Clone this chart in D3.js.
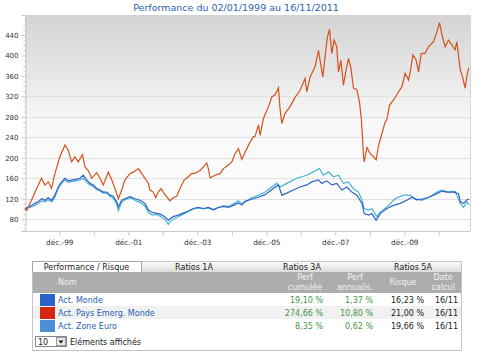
<!DOCTYPE html>
<html><head><meta charset="utf-8">
<script src="https://cdn.jsdelivr.net/npm/d3@7"></script>
<style>
html,body{margin:0;padding:0;background:#fff;}
svg{display:block;font-family:"DejaVu Sans",Verdana,sans-serif;}
</style></head>
<body>
<svg id="c" width="478" height="357"></svg>
<script>
// ---- DATA (decimal years, base 100) ----
const seriesNames = ["Act. Monde", "Act. Pays Emerg. Monde", "Act. Zone Euro"];
const seriesColors = ["#2f62c8", "#d4521c", "#46b4d2"];
const legendColors = ["#2c63c9", "#d52710", "#4a90d6"];

const emergT = [1999.00,1999.05,1999.19,1999.34,1999.48,1999.58,1999.68,1999.77,1999.87,2000.015,2000.16,2000.255,2000.355,2000.45,2000.545,2000.67,2000.74,2000.836,2000.935,2001.08,2001.176,2001.27,2001.417,2001.515,2001.61,2001.707,2001.805,2001.90,2002.046,2002.14,2002.287,2002.386,2002.48,2002.577,2002.626,2002.72,2002.79,2002.867,2002.945,2003.04,2003.157,2003.206,2003.30,2003.40,2003.497,2003.62,2003.737,2003.836,2003.93,2004.077,2004.17,2004.27,2004.318,2004.367,2004.51,2004.657,2004.753,2004.90,2004.997,2005.09,2005.19,2005.287,2005.38,2005.527,2005.62,2005.67,2005.77,2005.817,2005.913,2006.06,2006.157,2006.25,2006.35,2006.398,2006.447,2006.54,2006.688,2006.83,2006.978,2007.12,2007.17,2007.268,2007.41,2007.51,2007.636,2007.70,2007.77,2007.83,2007.897,2007.964,2008.04,2008.09,2008.16,2008.234,2008.31,2008.38,2008.45,2008.525,2008.62,2008.698,2008.75,2008.785,2008.814,2008.835,2008.913,2009.009,2009.105,2009.18,2009.25,2009.348,2009.44,2009.49,2009.57,2009.685,2009.83,2009.93,2010.02,2010.12,2010.169,2010.247,2010.34,2010.41,2010.49,2010.60,2010.70,2010.845,2010.943,2011.02,2011.09,2011.18,2011.28,2011.38,2011.47,2011.52,2011.62,2011.687,2011.76,2011.81,2011.86,2011.874];
const emergV = [100,97,117,140,160,147,153,140,169,202,225,215,192,202,192,206,182,175,160,171,160,147,172,157,140,120,137,157,169,172,179,169,160,150,137,133,122,133,140,130,120,116,122,125,140,157,163,169,170,175,182,190,179,161,166,169,179,186,192,208,218,197,211,231,241,242,264,244,277,300,319,323,337,294,267,287,300,318,332,355,329,358,378,410,358,397,436,451,404,430,417,368,391,342,372,394,375,336,333,309,277,241,202,192,220,208,202,196,224,247,270,274,303,313,329,339,365,352,368,401,391,368,404,404,417,427,446,464,440,417,430,420,411,427,372,358,336,358,375,374.66];

const mondeT = [1999.00,1999.145,1999.29,1999.386,1999.485,1999.58,1999.676,1999.775,1999.87,1999.966,2000.065,2000.16,2000.256,2000.40,2000.595,2000.69,2000.79,2000.886,2000.98,2001.08,2001.176,2001.27,2001.37,2001.466,2001.56,2001.66,2001.707,2001.805,2001.90,2002.046,2002.19,2002.336,2002.48,2002.577,2002.675,2002.79,2002.916,2003.06,2003.157,2003.206,2003.30,2003.447,2003.59,2003.737,2003.88,2004.03,2004.17,2004.318,2004.46,2004.608,2004.753,2004.90,2005.043,2005.19,2005.287,2005.38,2005.527,2005.77,2005.96,2006.20,2006.35,2006.447,2006.59,2006.78,2006.978,2007.17,2007.317,2007.51,2007.607,2007.75,2007.897,2008.04,2008.19,2008.333,2008.478,2008.62,2008.768,2008.835,2008.96,2009.058,2009.18,2009.299,2009.49,2009.685,2009.879,2010.07,2010.218,2010.36,2010.555,2010.749,2010.943,2011.09,2011.23,2011.425,2011.57,2011.62,2011.716,2011.815,2011.874];
const mondeV = [101,105,111,114,120,117,122,117,127,143,153,160,155,157,160,166,157,150,147,140,137,133,133,127,125,114,104,117,120,124,120,117,111,98,94,92,90,85,78,81,85,88,92,96,101,103,101,103,99,103,105,103,107,112,108,115,118,123,128,140,147,127,131,137,143,147,153,157,150,155,147,150,137,143,133,127,111,91,88,91,78,91,101,107,111,117,123,118,120,124,130,135,133,133,130,114,111,118,119.10];

const euroT = [1999.00,1999.145,1999.29,1999.386,1999.485,1999.58,1999.676,1999.775,1999.87,1999.966,2000.065,2000.16,2000.256,2000.40,2000.595,2000.69,2000.79,2000.886,2000.98,2001.08,2001.176,2001.27,2001.37,2001.466,2001.56,2001.66,2001.707,2001.805,2001.90,2002.046,2002.19,2002.336,2002.48,2002.577,2002.675,2002.72,2002.79,2002.916,2003.06,2003.157,2003.206,2003.30,2003.447,2003.59,2003.737,2003.88,2004.03,2004.17,2004.318,2004.46,2004.608,2004.753,2004.90,2005.043,2005.19,2005.287,2005.527,2005.77,2005.96,2006.30,2006.398,2006.59,2006.88,2007.17,2007.36,2007.54,2007.65,2007.80,2007.94,2008.09,2008.23,2008.38,2008.52,2008.67,2008.77,2008.835,2008.96,2009.058,2009.20,2009.299,2009.54,2009.73,2009.97,2010.17,2010.31,2010.50,2010.749,2010.943,2011.09,2011.27,2011.47,2011.62,2011.716,2011.815,2011.874];
const euroV = [100,103,107,111,116,114,118,114,123,140,150,157,152,154,157,160,152,147,144,138,135,131,131,125,121,110,97,113,118,122,117,113,106,93,89,88,90,86,80,70,75,80,85,90,95,100,102,100,102,98,103,106,105,110,116,110,120,127,133,150,143,150,160,166,172.5,179,166,172.5,163,166,150,153,140,133,117,101,98,101,85,94,107,120,127,127,120,117,124,133,137,133,135,111,103,114,108.35];

const yTicks = [80,120,160,200,240,280,320,360,400,440];
const xTickYears = [1999,2000,2001,2002,2003,2004,2005,2006,2007,2008,2009,2010];
const xLabelYears = [1999,2001,2003,2005,2007,2009];
const title = "Performance du 02/01/1999 au 16/11/2011";

const tabs = ["Performance / Risque", "Ratios 1A", "Ratios 3A", "Ratios 5A"];
const perfCum = ["19,10 %", "274,66 %", "8,35 %"];
const perfAnn = ["1,37 %", "10,80 %", "0,62 %"];
const risque = ["16,23 %", "21,00 %", "19,66 %"];
const dateCalc = ["16/11", "16/11", "16/11"];

// ---- helpers ----
function dy(t){const y=Math.floor(t);const s=new Date(y,0,1),e=new Date(y+1,0,1);return new Date(+s+(t-y)*(e-s));}
const svg = d3.select("#c");
const defs = svg.append("defs");

const L=25, R=470, T=15, B=231;
const x = d3.scaleTime().domain([new Date(1999,0,2), new Date(2011,10,16)]).range([L, 469]);
const y = d3.scaleLinear().domain([57, 479]).range([B, T]);

// background gradient
const g1 = defs.append("linearGradient").attr("id","bg").attr("x1",0).attr("y1",0).attr("x2",0).attr("y2",1);
g1.append("stop").attr("offset","0%").attr("stop-color","#d3d3d3");
g1.append("stop").attr("offset","50%").attr("stop-color","#f8f8f8");
g1.append("stop").attr("offset","100%").attr("stop-color","#ffffff");
svg.append("rect").attr("x",L).attr("y",T).attr("width",R-L).attr("height",B-T).attr("fill","url(#bg)");

// title
svg.append("text").attr("x",236).attr("y",11).attr("text-anchor","middle")
  .attr("font-size",9.5).attr("fill","#2a66b4").text(title);

// grid
svg.append("g").selectAll("line").data(yTicks).join("line")
  .attr("x1",L).attr("x2",R).attr("y1",d=>Math.round(y(d))+0.5).attr("y2",d=>Math.round(y(d))+0.5)
  .attr("stroke","#e1e1e1").attr("stroke-width",1);

// right border
svg.append("line").attr("x1",R+0.5).attr("x2",R+0.5).attr("y1",T).attr("y2",B).attr("stroke","#d8d8d8");

// y axis
const yAxis = d3.axisLeft(y).tickValues(yTicks).tickSize(4).tickPadding(3);
const ya = svg.append("g").attr("transform",`translate(${L+0.5},0)`).call(yAxis);
ya.select(".domain").attr("stroke","#c8c8c8");
ya.selectAll(".tick line").attr("stroke","#c8c8c8");
ya.selectAll("text").attr("font-size",7).attr("fill","#333").attr("font-family","DejaVu Sans");
const minor = d3.range(60, 480, 10).filter(v=>v%40!==0);
const ym = d3.axisLeft(y).tickValues(minor).tickSize(2).tickFormat("");
const yma = svg.append("g").attr("transform",`translate(${L+0.5},0)`).call(ym);
yma.select(".domain").remove();
yma.selectAll(".tick line").attr("stroke","#c8c8c8");

// x axis
const fmt = d => "déc.-" + String(d.getFullYear()).slice(2);
const xAxis = d3.axisBottom(x).tickValues(xTickYears.map(yr=>new Date(yr,11,31)))
  .tickSize(4).tickPadding(4).tickFormat(d => xLabelYears.includes(d.getFullYear()) ? fmt(d) : "");
const xa = svg.append("g").attr("transform",`translate(0,${B+0.5})`).call(xAxis);
xa.select(".domain").attr("stroke","#c8c8c8").attr("d",`M${L},0H${R}`);
xa.selectAll(".tick line").attr("stroke","#c8c8c8");
xa.selectAll("text").attr("font-size",7.3).attr("fill","#333").attr("font-family","DejaVu Sans");

// lines
const line = d3.line().x(d=>x(dy(d[0]))).y(d=>y(d[1]));
const mk = (T_,V_) => T_.map((t,i)=>[t,V_[i]]);
const plot = svg.append("g");
plot.append("path").datum(mk(euroT,euroV)).attr("d",line).attr("fill","none")
  .attr("stroke",seriesColors[2]).attr("stroke-width",1.2);
plot.append("path").datum(mk(mondeT,mondeV)).attr("d",line).attr("fill","none")
  .attr("stroke",seriesColors[0]).attr("stroke-width",1.2);
plot.append("path").datum(mk(emergT,emergV)).attr("d",line).attr("fill","none")
  .attr("stroke",seriesColors[1]).attr("stroke-width",1.2);

// ---- table ----
const TX=32, TW=429, TY=261, TH=89;
const tg = defs.append("linearGradient").attr("id","tab").attr("x1",0).attr("y1",0).attr("x2",0).attr("y2",1);
tg.append("stop").attr("offset","0%").attr("stop-color","#fbfbfb");
tg.append("stop").attr("offset","100%").attr("stop-color","#dcdcdc");
const tbl = svg.append("g").attr("font-size",8);
tbl.append("rect").attr("x",TX+0.5).attr("y",TY+0.5).attr("width",TW).attr("height",TH).attr("fill","#fff").attr("stroke","#c4c4c4");
tbl.append("rect").attr("x",TX+1).attr("y",TY+1).attr("width",TW-1).attr("height",10).attr("fill","url(#tab)");
tbl.append("rect").attr("x",TX+0.5).attr("y",TY+0.5).attr("width",109).attr("height",11).attr("fill","#fff").attr("stroke","#a8a8a8");
const tabX = [86.5, 194, 302, 413];
tbl.selectAll("text.tab").data(tabs).join("text").attr("class","tab")
  .attr("x",(d,i)=>tabX[i]).attr("y",TY+9).attr("text-anchor","middle").attr("fill","#222").text(d=>d);
// header
const HY=272, HH=21;
tbl.append("rect").attr("x",TX+1).attr("y",HY).attr("width",TW-1).attr("height",HH).attr("fill","#adadad");
const hc = "#f2f2f2";
tbl.append("text").attr("x",58).attr("y",HY+13).attr("fill",hc).text("Nom");
const hdr = [["Perf","cumulée",305],["Perf","annualis.",355],["Risque",null,403],["Date","calcul",443]];
hdr.forEach(h=>{
  if(h[1]){
    tbl.append("text").attr("x",h[2]).attr("y",HY+8).attr("text-anchor","middle").attr("fill",hc).text(h[0]);
    tbl.append("text").attr("x",h[2]).attr("y",HY+18).attr("text-anchor","middle").attr("fill",hc).text(h[1]);
  } else {
    tbl.append("text").attr("x",h[2]).attr("y",HY+13).attr("text-anchor","middle").attr("fill",hc).text(h[0]);
  }
});
// rows
const RH=13, RY0=293;
const rowFill = ["#ffffff","#f1f1f1","#ffffff"];
seriesNames.forEach((n,i)=>{
  const ry = RY0 + i*RH;
  tbl.append("rect").attr("x",TX+1).attr("y",ry).attr("width",TW-1).attr("height",RH).attr("fill",rowFill[i]);
  tbl.append("rect").attr("x",40).attr("y",ry+1).attr("width",15).attr("height",RH-1).attr("fill",legendColors[i]);
  tbl.append("text").attr("x",58).attr("y",ry+9.5).attr("fill","#2a5fb4").text(n);
  tbl.append("text").attr("x",323).attr("y",ry+9.5).attr("text-anchor","end").attr("fill","#3f9a3f").text(perfCum[i]);
  tbl.append("text").attr("x",373).attr("y",ry+9.5).attr("text-anchor","end").attr("fill","#3f9a3f").text(perfAnn[i]);
  tbl.append("text").attr("x",424).attr("y",ry+9.5).attr("text-anchor","end").attr("fill","#222").text(risque[i]);
  tbl.append("text").attr("x",458).attr("y",ry+9.5).attr("text-anchor","end").attr("fill","#222").text(dateCalc[i]);
});
// select box
tbl.append("rect").attr("x",35.5).attr("y",336.5).attr("width",31).attr("height",10).attr("fill","#fff").attr("stroke","#7a8a9a");
tbl.append("text").attr("x",38).attr("y",344.5).attr("fill","#222").text("10");
tbl.append("rect").attr("x",56.5).attr("y",337.5).attr("width",9).attr("height",8).attr("fill","#e8e8e8").attr("stroke","#999");
tbl.append("path").attr("d","M58.5,340.5 L63.5,340.5 L61,343.5 Z").attr("fill","#111");
tbl.append("text").attr("x",70).attr("y",344.5).attr("fill","#222").text("Eléments affichés");
</script>
</body></html>
